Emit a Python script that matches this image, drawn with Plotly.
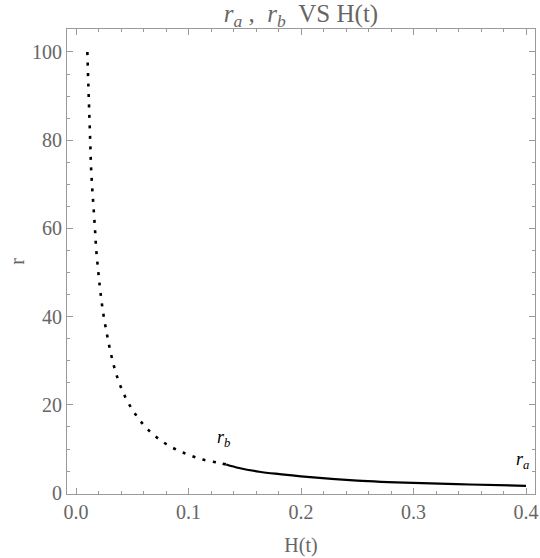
import plotly.graph_objects as go

# r_b branch (dotted)
h_b = [0.0101, 0.011, 0.0116, 0.0122, 0.0128, 0.0134, 0.0145, 0.0158, 0.017, 0.0181,
       0.0199, 0.0217, 0.0243, 0.0276, 0.0312, 0.036, 0.043, 0.0525, 0.064, 0.079,
       0.095, 0.1125, 0.127, 0.1335]
r_b = [100, 92.3, 87.6, 83.1, 78.4, 73.7, 68.8, 64, 59.3, 54.8,
       50, 45.6, 40.6, 35.9, 31.4, 26.8, 22.2, 18.0, 14.4, 11.3,
       9.2, 7.6, 6.85, 6.5]

# r_a branch (solid)
h_a = [0.1335, 0.145, 0.163, 0.181, 0.2, 0.25, 0.3, 0.35, 0.4]
r_a = [6.5, 5.7, 4.85, 4.3, 3.8, 2.85, 2.3, 1.95, 1.65]

x_ticks = [0.0, 0.1, 0.2, 0.3, 0.4]
y_ticks = [0, 20, 40, 60, 80, 100]

GRAY = "#666666"
FRAME = "#9a9a9a"
SERIF = "Liberation Serif"

fig = go.Figure()
fig.add_trace(go.Scatter(
    x=h_b, y=r_b, mode="lines",
    line=dict(color="black", width=2.6, dash="3px,7.5px", shape="spline"),
    showlegend=False,
))
fig.add_trace(go.Scatter(
    x=h_a, y=r_a, mode="lines",
    line=dict(color="black", width=2.2, shape="spline"),
    showlegend=False,
))

fig.add_annotation(x=0.131, y=12.4, text="<i>r</i><sub><i>b</i></sub>", showarrow=False,
                   font=dict(family=SERIF, size=18, color="black"))
fig.add_annotation(x=0.397, y=7.3, text="<i>r</i><sub><i>a</i></sub>", showarrow=False,
                   font=dict(family=SERIF, size=18, color="black"))

axis_common = dict(
    showline=True, linecolor=FRAME, linewidth=1, mirror="ticks",
    ticks="inside", tickcolor=FRAME, ticklen=6, showgrid=False, zeroline=False,
    tickfont=dict(family=SERIF, size=20, color=GRAY), automargin=False,
)

fig.update_xaxes(
    range=[-0.008, 0.408], tickvals=x_ticks, ticktext=[f"{v:.1f}" for v in x_ticks],
    minor=dict(ticks="inside", dtick=0.02, ticklen=3, tickcolor=FRAME),
    title=dict(text="H(t)", font=dict(family=SERIF, size=20, color=GRAY)),
    **axis_common,
)
fig.update_yaxes(
    range=[-0.2, 105.2], tickvals=y_ticks,
    minor=dict(ticks="inside", dtick=5, ticklen=3, tickcolor=FRAME),
    title=dict(text="r", font=dict(family=SERIF, size=20, color=GRAY), standoff=2),
    **axis_common,
)

title_text = ("<i>r</i><sub><i>a</i></sub>&nbsp;,&nbsp;&nbsp;<i>r</i><sub><i>b</i></sub>"
              "&nbsp;&nbsp;VS H(t)")
fig.update_layout(
    width=540, height=558,
    plot_bgcolor="white", paper_bgcolor="white",
    margin=dict(l=67, r=5, t=29, b=64),
    title=dict(text=title_text,
               x=0.5, xanchor="center", xref="paper", y=0.976, yanchor="middle",
               font=dict(family=SERIF, size=25, color=GRAY)),
)

fig.write_html("out.html", config={"displayModeBar": False},
               post_script="document.body.style.margin='0px';")
